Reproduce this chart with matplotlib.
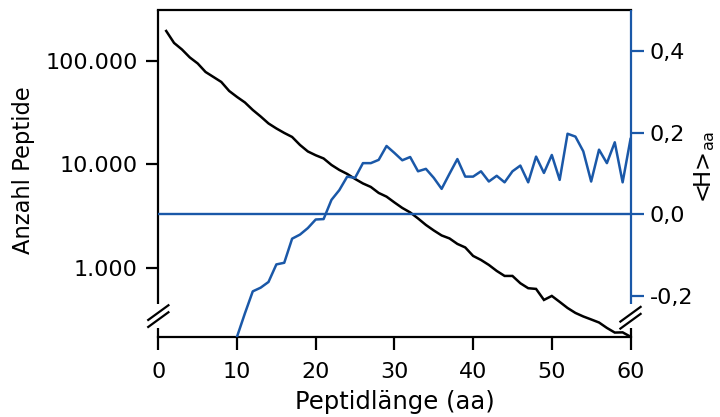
import matplotlib
matplotlib.use('Agg')
import matplotlib.pyplot as plt
from matplotlib.ticker import NullLocator, FixedLocator, FixedFormatter
from matplotlib.lines import Line2D

# ---------------- data ----------------
length = list(range(1, 61))
counts = [193200, 148100, 128200, 107400, 94000, 77800, 69660, 62350, 51060, 44700,
          39570, 33500, 29000, 24830, 22220, 20120, 18400, 15410, 13340, 12260,
          11420, 9890, 8850, 8100, 7250, 6560, 6070, 5315, 4895, 4305,
          3810, 3450, 3018, 2613, 2313, 2070, 1937, 1715, 1586, 1314,
          1202, 1076, 942, 843, 843, 717, 642, 632, 495, 541,
          474, 414, 371, 343, 321, 300, 266, 240, 241, 219]

h_length = list(range(10, 61))
hydro = [-0.300, -0.243, -0.189, -0.180, -0.166, -0.123, -0.119, -0.060, -0.050, -0.034,
         -0.013, -0.012, 0.035, 0.059, 0.092, 0.089, 0.125, 0.125, 0.133, 0.167,
         0.150, 0.132, 0.140, 0.105, 0.111, 0.089, 0.062, 0.099, 0.135, 0.092,
         0.092, 0.105, 0.080, 0.094, 0.078, 0.105, 0.119, 0.078, 0.141, 0.101,
         0.145, 0.084, 0.197, 0.190, 0.154, 0.080, 0.158, 0.125, 0.176, 0.078, 0.184]

x_ticks = [0, 10, 20, 30, 40, 50, 60]
left_ticks = [1000, 10000, 100000]
left_labels = ['1.000', '10.000', '100.000']
right_ticks = [-0.2, 0.0, 0.2, 0.4]
right_labels = ['-0,2', '0,0', '0,2', '0,4']

BLUE = '#1a58a8'
FONT = 'DejaVu Sans'
FS = 16

plt.rcParams['font.family'] = [FONT]
plt.rcParams['mathtext.fontset'] = 'dejavusans'

fig = plt.figure(figsize=(7.2, 4.17), dpi=100)
ax = fig.add_axes([0.2199, 0.1926, 0.8757 - 0.2199, 0.976 - 0.1926])
ax2 = ax.twinx()

LW_SP = 1.6

# black curve
ax.plot(length, counts, color='black', lw=1.8, solid_joinstyle='miter', zorder=3)
ax.set_yscale('log')
ax.set_ylim(219, 307600)
ax.set_xlim(0, 60)
ax.yaxis.set_minor_locator(NullLocator())
ax.yaxis.set_major_locator(FixedLocator(left_ticks))
ax.yaxis.set_major_formatter(FixedFormatter(left_labels))
ax.set_xticks(x_ticks)
ax.set_xticklabels([str(v) for v in x_ticks])

# blue curve
ax2.axhline(0.0, color=BLUE, lw=1.7, zorder=2)
ax2.plot(h_length, hydro, color=BLUE, lw=1.8, zorder=3)
ax2.set_ylim(-0.3, 0.5)
ax2.yaxis.set_major_locator(FixedLocator(right_ticks))
ax2.yaxis.set_major_formatter(FixedFormatter(right_labels))
ax2.yaxis.set_minor_locator(NullLocator())

for s in ['left', 'right']:
    ax.spines[s].set_visible(False)
for s in ['left', 'right', 'top', 'bottom']:
    ax2.spines[s].set_visible(False)
for s in ['top', 'bottom']:
    ax.spines[s].set_linewidth(LW_SP)
    ax.spines[s].set_color('black')

ax.tick_params(axis='x', direction='out', length=9, width=LW_SP, labelsize=FS, pad=9, colors='black')
ax.tick_params(axis='y', direction='out', length=9, width=LW_SP, labelsize=FS, pad=6, colors='black')
ax2.tick_params(axis='y', direction='out', length=9, width=LW_SP, labelsize=FS, pad=5,
                color=BLUE, labelcolor='black')

ax.set_xlabel('Peptidlänge (aa)', fontsize=17.5, labelpad=6)
fig.text(0.032, 0.592, 'Anzahl Peptide', rotation=90, fontsize=16.3,
         ha='center', va='center')
fig.text(0.979, 0.60, '<H>$_{\\mathrm{aa}}$', rotation=90, fontsize=16.3,
         ha='center', va='center')

# custom broken spines
br_top = 0.100
br_bot = 0.027
tr = ax.transAxes
def seg(x0, y0, x1, y1, color):
    ax.add_line(Line2D([x0, x1], [y0, y1], transform=tr, color=color, lw=LW_SP,
                       clip_on=False, zorder=5, solid_capstyle='butt'))

seg(0, br_top, 0, 1.0, 'black')
seg(0, 0, 0, br_bot, 'black')
seg(1, br_top, 1, 1.0, BLUE)
seg(1, 0, 1, br_bot, 'black')

# break marks
dx = 11 / 472.2
dy = 8 / 326.7
sep = 3.5 / 326.7
for cx, cy in [(0.0, 0.063), (1.0, 0.058)]:
    for off in (-sep, sep):
        seg(cx - dx, cy + off - dy, cx + dx, cy + off + dy, 'black')

fig.savefig('out.png', dpi=100)
